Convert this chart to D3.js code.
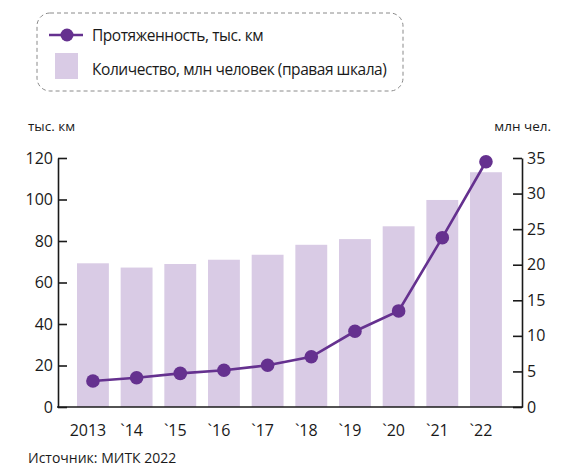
<!DOCTYPE html>
<html>
<head>
<meta charset="utf-8">
<script src="https://d3js.org/d3.v7.min.js"></script>
<style>
  body { margin: 0; background: #fff; }
  svg text { font-family: "Open Sans", "Noto Sans", sans-serif; fill: #1a1a1a; }
</style>
</head>
<body>
<div id="chart"></div>
<script>
// data
var years = ["2013", "`14", "`15", "`16", "`17", "`18", "`19", "`20", "`21", "`22"];
var lengthKm = [12.5, 14.1, 16.2, 17.7, 20.1, 24.2, 36.5, 46.3, 81.6, 118.2];   // тыс. км, left axis
var people = [20.2, 19.6, 20.1, 20.7, 21.4, 22.8, 23.6, 25.4, 29.1, 33.0];      // млн человек, right axis
var leftTicks = [0, 20, 40, 60, 80, 100, 120];
var rightTicks = [0, 5, 10, 15, 20, 25, 30, 35];

var W = 586, H = 467;
var lineColor = "#65318f", barColor = "#d9cbe5";

var svg = d3.select("#chart").append("svg")
  .attr("width", W).attr("height", H);

var x = d3.scaleBand().domain(years).range([65.2, 513.7]).padding(0.27);
var yL = d3.scaleLinear().domain([0, 120]).range([407, 158]);
var yR = d3.scaleLinear().domain([0, 35]).range([407, 158]);

// bars
svg.append("g").selectAll("rect")
  .data(people)
  .enter().append("rect")
  .attr("x", function(d, i) { return x(years[i]); })
  .attr("y", function(d) { return yR(d); })
  .attr("width", x.bandwidth())
  .attr("height", function(d) { return yR(0) - yR(d); })
  .attr("fill", barColor);

// axes
var axL = svg.append("g").attr("transform", "translate(58,0)")
  .call(d3.axisLeft(yL).tickValues(leftTicks).tickSizeInner(-9).tickSizeOuter(0).tickPadding(5));
var axR = svg.append("g").attr("transform", "translate(522,0)")
  .call(d3.axisRight(yR).tickValues(rightTicks).tickSizeInner(-9).tickSizeOuter(0).tickPadding(5));
var axB = svg.append("g").attr("transform", "translate(0,407)")
  .call(d3.axisBottom(x).tickSize(0).tickPadding(18));
axB.select(".domain").attr("d", "M57,0H523");
axB.selectAll("text").attr("dx", -5);

[axL, axR, axB].forEach(function(a) {
  a.select(".domain").attr("stroke", "#1a1a1a").attr("stroke-width", 1.6);
  a.selectAll(".tick line").attr("stroke", "#1a1a1a").attr("stroke-width", 1.6);
  a.selectAll("text").style("font-size", "16px").attr("fill", "#1a1a1a");
});

// line
var line = d3.line()
  .x(function(d, i) { return x(years[i]) + x.bandwidth() / 2; })
  .y(function(d) { return yL(d); });

svg.append("path").datum(lengthKm)
  .attr("d", line)
  .attr("fill", "none")
  .attr("stroke", lineColor)
  .attr("stroke-width", 2.6);

svg.append("g").selectAll("circle")
  .data(lengthKm)
  .enter().append("circle")
  .attr("cx", function(d, i) { return x(years[i]) + x.bandwidth() / 2; })
  .attr("cy", function(d) { return yL(d); })
  .attr("r", 6.8)
  .attr("fill", lineColor);

// axis titles
svg.append("text").attr("x", 28).attr("y", 131).style("font-size", "13.5px").text("тыс. км");
svg.append("text").attr("x", 551).attr("y", 131).attr("text-anchor", "end").style("font-size", "13.5px").text("млн чел.");

// legend
svg.append("rect")
  .attr("x", 37).attr("y", 13).attr("width", 366).attr("height", 78)
  .attr("rx", 13).attr("fill", "none")
  .attr("stroke", "#8a8a8a").attr("stroke-width", 1).attr("stroke-dasharray", "4,3");
svg.append("line").attr("x1", 49).attr("x2", 83).attr("y1", 35).attr("y2", 35)
  .attr("stroke", lineColor).attr("stroke-width", 2.6);
svg.append("circle").attr("cx", 67).attr("cy", 35).attr("r", 6.5).attr("fill", lineColor);
svg.append("text").attr("x", 92).attr("y", 41).style("font-size", "15.5px")
  .style("letter-spacing", "-0.45px").text("Протяженность, тыс. км");
svg.append("rect").attr("x", 55).attr("y", 53).attr("width", 23).attr("height", 26).attr("fill", barColor);
svg.append("text").attr("x", 92).attr("y", 75).style("font-size", "15.5px")
  .style("letter-spacing", "-0.45px").text("Количество, млн человек (правая шкала)");

// source
svg.append("text").attr("x", 28).attr("y", 463).style("font-size", "14px").text("Источник: МИТК 2022");
</script>
</body>
</html>
